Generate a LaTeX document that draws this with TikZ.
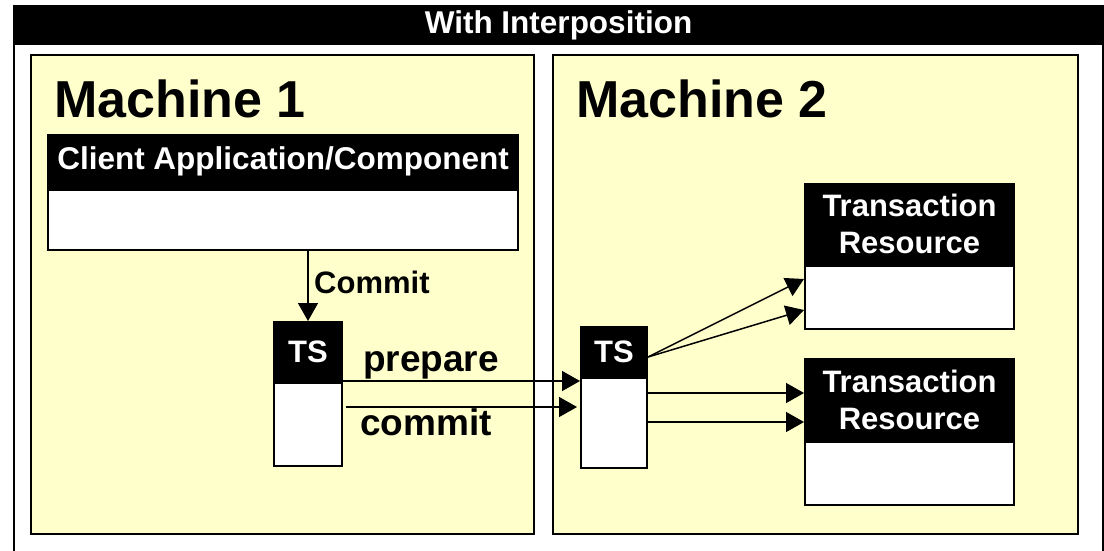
\documentclass[tikz,border=0pt]{standalone}
\usepackage{fontspec}
\setmainfont{Liberation Sans}
\usetikzlibrary{arrows.meta}
\definecolor{machinefill}{HTML}{FFFFCC}
\tikzset{
  machine/.style={draw=black, line width=2pt, fill=machinefill},
  hdr/.style={fill=black, draw=black, line width=2pt, text=white, inner sep=0pt,
    anchor=north west, align=center, font=\bfseries},
  bodybox/.style={fill=white, draw=black, line width=2pt, inner sep=0pt, anchor=north west},
  arr/.style={line width=1.5pt, -{Triangle[length=18pt,width=20pt]}},
  lbl/.style={inner sep=0pt, anchor=base west, font=\bfseries},
}
\begin{document}
\begin{tikzpicture}[x=1pt,y=-1pt]
  \useasboundingbox (0,0) rectangle (1104,550);
  % outer frame and title bar
  \draw[line width=1.5pt] (14,6) rectangle (1103,570);
  \node[hdr, line width=0pt, minimum width=1089pt, minimum height=38pt, font=\fontsize{31.5}{33}\bfseries]
    (title) at (14,6) {With Interposition};
  % machines
  \draw[machine] (31,55) rectangle (534,534);
  \draw[machine] (553,55) rectangle (1078,534);
  \node[lbl, font=\fontsize{52}{56}\bfseries] (m1) at (54,117) {Machine 1};
  \node[lbl, font=\fontsize{52}{56}\bfseries] (m2) at (576,117) {Machine 2};
  % client application
  \node[hdr, minimum width=470pt, minimum height=53pt, font=\fontsize{31.5}{33}\bfseries]
    (cah) at (47,134) {Client Application/Component};
  \node[bodybox, minimum width=470pt, minimum height=60pt] (cab) at (cah.south west) {};
  % transaction services
  \node[hdr, minimum width=68pt, minimum height=59pt, font=\fontsize{31}{33}\bfseries]
    (ts1h) at (273,321) {TS};
  \node[bodybox, minimum width=68pt, minimum height=83pt] (ts1b) at (ts1h.south west) {};
  \node[hdr, minimum width=66pt, minimum height=49pt, font=\fontsize{31}{33}\bfseries]
    (ts2h) at (580,326) {TS};
  \node[bodybox, minimum width=66pt, minimum height=90pt] (ts2b) at (ts2h.south west) {};
  % transaction resources
  \node[hdr, minimum width=209pt, minimum height=80pt, font=\fontsize{31}{37}\bfseries]
    (tr1h) at (804,183) {Transaction\\Resource};
  \node[bodybox, minimum width=209pt, minimum height=63pt] (tr1b) at (tr1h.south west) {};
  \node[hdr, minimum width=209pt, minimum height=81pt, font=\fontsize{31}{37}\bfseries]
    (tr2h) at (804,358) {Transaction\\Resource};
  \node[bodybox, minimum width=209pt, minimum height=63pt] (tr2b) at (tr2h.south west) {};
  % connectors
  \draw[arr] (ts1h.north |- cab.south) -- (ts1h.north);
  \node[lbl, font=\fontsize{31}{33}\bfseries] (commitlbl) at (314,293) {Commit};
  \draw[arr] (ts1b.east |- 0,381) -- (ts2b.west |- 0,381);
  \draw[arr] ([xshift=3pt]ts1b.east |- 0,407) -- ([xshift=-3pt]ts2b.west |- 0,407);
  \node[lbl, font=\fontsize{37}{40}\bfseries] (preplbl) at (363,371) {prepare};
  \node[lbl, font=\fontsize{37}{40}\bfseries] (comlbl) at (360,435) {commit};
  \draw[arr] (ts2h.east |- 0,357) -- (tr1b.west |- 0,279);
  \draw[arr] (ts2h.east |- 0,357) -- (tr1b.west |- 0,310);
  \draw[arr] (ts2b.east |- 0,393) -- (tr2h.west |- 0,393);
  \draw[arr] (ts2b.east |- 0,422) -- (tr2h.west |- 0,422);
\end{tikzpicture}
\end{document}
